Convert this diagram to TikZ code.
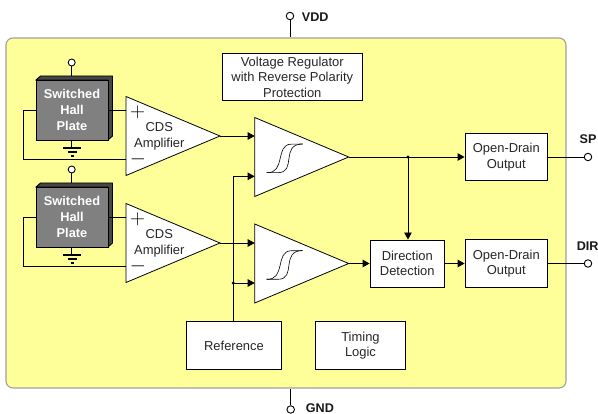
\documentclass[tikz,border=0pt]{standalone}
\usepackage{fontspec}
\setmainfont{Liberation Sans}
\usetikzlibrary{calc,shapes.geometric,arrows.meta}
\definecolor{chipyellow}{RGB}{255,255,153}
\definecolor{chipedge}{RGB}{160,160,160}
\definecolor{platefront}{RGB}{128,128,128}
\definecolor{plateside}{RGB}{70,70,70}
\tikzstyle{block}   = [rectangle, draw=black, line width=0.9pt, fill=white, text=black!85, align=center, inner sep=0pt, font=\fontsize{12.95}{15.4}\selectfont]
\tikzstyle{gain}    = [isosceles triangle, isosceles triangle stretches, draw=black, line width=0.8pt, fill=white, inner sep=0pt, outer sep=0pt, anchor=lower side, minimum width=79pt, minimum height=94pt]
\tikzstyle{comp}    = [gain]
\tikzstyle{pin}     = [circle, draw=black, line width=0.9pt, fill=white, inner sep=0pt, minimum size=7.5pt]
\tikzstyle{pinname} = [font=\fontsize{12.6}{15}\selectfont\bfseries, text=black!90, inner sep=0pt]
\tikzstyle{wire}    = [line width=0.9pt]
\tikzstyle{arrow}   = [line width=0.9pt,-{Triangle[length=7pt,width=7.5pt]}]
\tikzstyle{junction}= [circle, fill=black, inner sep=0pt, minimum size=3.2pt]
\begin{document}
\begin{tikzpicture}[x=1pt,y=-1pt]
	\useasboundingbox (0,0) rectangle (598,414);
	\node[rectangle, rounded corners=7pt, draw=chipedge, line width=1.1pt, fill=chipyellow, minimum width=560pt, minimum height=350pt] (chip) at (286,213) {};

	% hall plates, amplifiers and comparators
	\foreach \i/\dy in {1/0,2/107} {
		\begin{scope}[shift={(0,\dy)}]
			\filldraw[plateside, draw=black, line width=0.9pt] (36,80) -- (40.5,76) -- (112.5,76) -- (112.5,136) -- (108,140) -- (108,80) -- cycle;
			\node[rectangle, draw=black, line width=0.9pt, fill=platefront, minimum width=72pt, minimum height=60pt, inner sep=0pt, text=white, align=center, font=\fontsize{12.8}{15.7}\selectfont\bfseries] (plate\i) at (72,110) {Switched\\Hall\\Plate};
			\node[pin, minimum size=7pt] (bias\i) at (71.7,62.5) {};
			\coordinate (top\i) at (71.7,76);
			\coordinate (gnd\i) at (71.7,148);
			\draw[line width=1.1pt] (63.3,148) -- (81,148);
			\draw[line width=1.1pt] (67.7,152) -- (76.7,152);
			\draw[line width=1.1pt] (70.8,156) -- (73.8,156);
			\node[gain] (amp\i) at (126,136) {};
			\node[font=\fontsize{12.95}{16.2}\selectfont, text=black!85, align=center, inner sep=0pt] (amplabel\i) at (159.3,136) {CDS\\Amplifier};
			\node[inner sep=0pt, font=\fontsize{20}{20}\selectfont] (plus\i) at (137.5,112) {$+$};
			\node[inner sep=0pt, font=\fontsize{20}{20}\selectfont] (minus\i) at (138,159) {$-$};
			\coordinate (ampplus\i) at (126,110);
			\coordinate (ampminus\i) at (126,159.5);
			\coordinate (loop\i) at (23,110);
			\coordinate (loopend\i) at (23,159.5);
		\end{scope}
		\draw[wire] (bias\i) -- (top\i);
		\draw[wire] (plate\i.south -| gnd\i) -- (gnd\i);
		\draw[wire] (plate\i.east) -- (ampplus\i);
		\draw[wire] (plate\i.west) -- (loop\i) -- (loopend\i) -- (ampminus\i);
	}
	\node[comp] (compa) at (254.7,157) {};
	\node[comp] (compb) at (254.7,263.5) {};
	\foreach \dy in {0,106.6} {
		\begin{scope}[shift={(0,\dy)}]
			\draw[line width=0.6pt] (266.7,172.7) .. controls (286,173.5) and (275,144.5) .. (291,144.2) -- (302.7,144);
			\draw[line width=0.6pt] (266.7,172.7) -- (278,172.7) .. controls (297,172.7) and (280,144) .. (302.7,144);
		\end{scope}
	}

	% blocks
	\node[block, minimum width=140pt, minimum height=47.5pt] (regulator) at (292.3,77) {Voltage Regulator\\with Reverse Polarity\\Protection};
	\node[block, minimum width=94.5pt, minimum height=47.5pt] (reference) at (234,345.7) {Reference};
	\node[block, minimum width=90.5pt, minimum height=47.5pt] (timing) at (360.5,345.5) {Timing\\Logic};
	\node[block, minimum width=74.5pt, minimum height=47pt] (direction) at (407.3,263.5) {Direction\\Detection};
	\node[block, minimum width=82.5pt, minimum height=47.5pt] (outputa) at (506.3,157) {Open-Drain\\Output};
	\node[block, minimum width=82.5pt, minimum height=47.5pt] (outputb) at (506.3,263.5) {Open-Drain\\Output};

	% pins
	\node[pin] (vdd) at (290,16) {};
	\node[pinname, anchor=west] (vddname) at (301.7,17) {VDD};
	\node[pin] (gnd) at (290.7,409.5) {};
	\node[pinname, anchor=west] (gndname) at (305.7,408.5) {GND};
	\node[pin] (sp) at (588,157) {};
	\node[pinname] (spname) at (588,139) {SP};
	\node[pin] (dir) at (588,263.5) {};
	\node[pinname] (dirname) at (587.7,245.7) {DIR};
	\draw[wire] (vdd) -- (vdd |- chip.north);
	\draw[wire] (gnd) -- (gnd |- chip.south);
	\draw[wire] (outputa) -- (sp);
	\draw[wire] (outputb) -- (dir);

	% signal path
	\coordinate (comparef) at (254.7,176.3);
	\coordinate (compbref) at (254.7,283);
	\coordinate (refbend) at (233.3,176.3);
	\coordinate (refdot) at (233.3,283);
	\coordinate (spdot) at (408,157);
	\draw[arrow] (amp1.apex) -- (amp1.apex -| comparef);
	\draw[arrow] (amp2.apex) -- (amp2.apex -| compbref);
	\draw[arrow] (reference.north -| refbend) -- (refbend) -- (comparef);
	\draw[arrow] (refdot) -- (compbref);
	\node[junction] (refjoint) at (refdot) {};
	\draw[arrow] (compa.apex) -- (outputa.west);
	\draw[arrow] (spdot) -- (direction.north -| spdot);
	\node[junction] (spjoint) at (spdot) {};
	\draw[arrow] (compb.apex) -- (direction.west);
	\draw[arrow] (direction.east) -- (outputb.west);
\end{tikzpicture}
\end{document}
